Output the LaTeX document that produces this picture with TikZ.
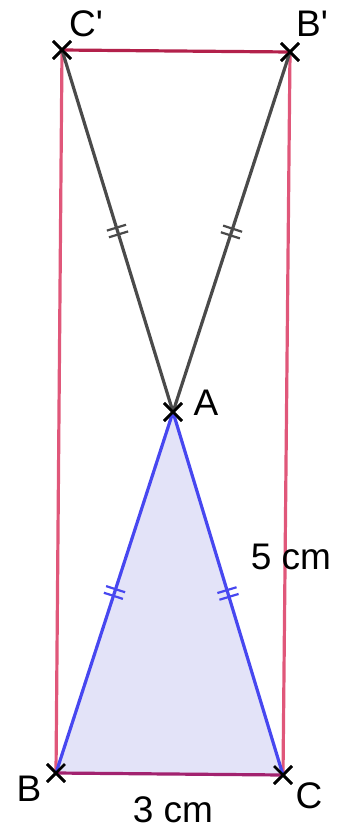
\documentclass[tikz,border=0pt]{standalone}
\usepackage{fontspec}
\setmainfont{Liberation Sans}
\usetikzlibrary{shapes.misc,decorations.markings}
\definecolor{ctop}{HTML}{B3214B}
\definecolor{cside}{HTML}{E0577A}
\definecolor{cbase}{HTML}{A2226F}
\definecolor{cblue}{HTML}{4747F0}
\definecolor{cfill}{HTML}{E3E3F8}
\definecolor{cgrey}{HTML}{4A4A4A}
\tikzset{
  ptmark/.style={cross out, draw=black, line width=2.8pt, minimum size=15pt, inner sep=0pt},
  ptlabel/.style={font=\fontsize{37}{44}\selectfont, inner sep=0pt},
  seg/.style={line width=3.2pt},
  eqticks/.style={postaction={decorate, decoration={markings,
    mark=at position 0.5 with {\draw[line width=2.2pt] (-3.5pt,-10pt) -- (-3.5pt,10pt) (3.5pt,-10pt) -- (3.5pt,10pt);}}}}
}
\begin{document}
\begin{tikzpicture}[x=1pt, y=-1pt]
  \useasboundingbox (0,0) rectangle (344,830);
  \node[ptmark] (Cp) at (62,50) {};
  \node[ptmark] (Bp) at (290,52) {};
  \node[ptmark] (A) at (173,412) {};
  \node[ptmark] (B) at (56,773) {};
  \node[ptmark] (C) at (283,775) {};

  % triangle ABC
  \fill[cfill] (A.center) -- (B.center) -- (C.center) -- cycle;
  \draw[seg, color=cside] (Cp.center) -- (B.center);
  \draw[seg, color=cside] (Bp.center) -- (C.center);
  \draw[seg, color=ctop] (Cp.center) -- (Bp.center);
  \draw[seg, color=cbase] (B.center) -- (C.center);
  \draw[seg, color=cblue, eqticks] (A.center) -- (B.center);
  \draw[seg, color=cblue, eqticks] (A.center) -- (C.center);
  \draw[seg, color=cgrey, eqticks] (A.center) -- (Cp.center);
  \draw[seg, color=cgrey, eqticks] (A.center) -- (Bp.center);

  % crosses on top
  \foreach \p in {Cp,Bp,A,B,C} \node[ptmark] at (\p.center) {};

  \node[ptlabel] (lCp) at (86,24) {C\textquotesingle};
  \node[ptlabel] (lBp) at (312,24) {B\textquotesingle};
  \node[ptlabel] (lA) at (206,403) {A};
  \node[ptlabel] (lB) at (29,789) {B};
  \node[ptlabel] (lC) at (309,796) {C};
  \node[ptlabel] (lbase) at (173,810) {3 cm};
  \node[ptlabel] (lside) at (291,557) {5 cm};
\end{tikzpicture}
\end{document}
